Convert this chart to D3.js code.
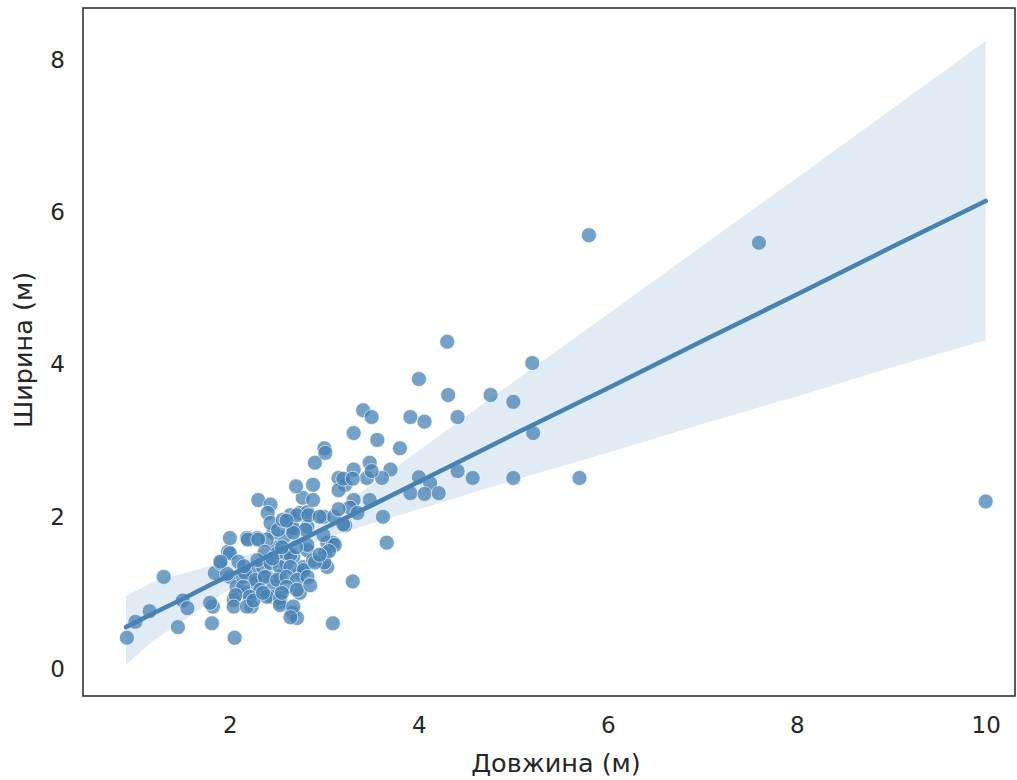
<!DOCTYPE html>
<html><head><meta charset="utf-8">
<script src="https://cdn.jsdelivr.net/npm/d3@7"></script>
<style>body{margin:0;background:#fff;} text{font-family:"DejaVu Sans",sans-serif;}</style>
</head><body>
<svg id="chart" width="1017" height="780"></svg>
<script>
// ---- data ----
const lengthX = [0.91,1.0,1.15,1.3,1.45,1.5,1.55,1.81,1.82,2.05,1.79,1.84,1.9,1.98,2.0,2.0,2.18,2.29,2.0,1.97,2.07,2.04,2.18,2.23,2.14,2.25,2.35,2.28,2.39,2.46,2.53,2.43,2.53,2.66,2.71,2.6,2.67,2.6,2.74,2.78,2.74,2.82,2.88,2.5,2.57,2.46,2.39,2.66,2.74,2.82,2.9,3.0,2.88,2.77,2.99,3.03,3.09,3.03,3.09,
2.3,2.43,2.4,2.43,2.82,2.64,2.67,2.8,2.51,2.19,2.3,2.37,2.5,2.64,1.9,2.09,2.29,2.43,2.53,2.64,2.78,2.16,2.27,2.37,2.5,2.6,2.71,2.82,2.14,2.32,2.6,2.71,2.06,2.21,2.39,2.53,2.04,2.18,2.53,2.67,2.64,
3.31,3.56,3.01,3.48,3.31,3.7,3.61,3.45,3.15,3.22,3.15,3.31,3.48,3.27,2.88,2.71,2.83,3.22,3.62,2.56,2.99,2.67,3.66,3.11,2.82,3.01,3.3,
4.3,5.2,4.0,4.31,4.76,5.0,3.91,4.06,4.41,5.21,3.8,4.0,4.12,3.91,4.06,4.21,4.41,4.57,5.0,5.7,3.41,3.5,
5.8,7.6,10.0,
3.0,3.05,3.2,3.1,2.25,2.35,2.55,2.45,2.55,2.7,2.15,2.6,3.2,3.5,3.3,2.85,2.9,2.95,3.15,3.35,2.7,2.95];
const widthY = [0.41,0.62,0.76,1.21,0.55,0.9,0.8,0.6,0.82,0.41,0.87,1.26,1.39,1.54,1.52,1.72,1.72,1.72,1.21,1.25,1.08,0.91,1.0,0.82,1.21,1.26,1.34,1.13,1.21,1.08,1.21,0.95,0.88,0.74,0.67,1.39,1.47,1.52,1.26,1.34,1.0,1.56,1.43,1.6,1.73,1.79,1.7,1.83,2.05,1.87,2.71,2.9,2.42,2.25,2.0,1.66,1.66,1.34,0.6,
2.22,2.16,2.05,1.92,2.06,2.02,1.85,1.83,1.83,1.7,1.7,1.54,1.52,1.5,1.41,1.41,1.43,1.39,1.34,1.34,1.3,1.26,1.17,1.21,1.17,1.21,1.17,1.21,1.08,1.04,1.08,1.04,0.97,0.95,0.95,0.93,0.82,0.82,0.84,0.82,0.68,
3.1,3.01,2.84,2.71,2.62,2.62,2.51,2.51,2.51,2.42,2.35,2.22,2.22,2.12,2.22,2.02,2.02,1.89,2.0,1.96,1.76,1.79,1.66,1.63,1.63,1.52,1.15,
4.3,4.02,3.81,3.6,3.6,3.51,3.31,3.25,3.31,3.1,2.9,2.52,2.44,2.31,2.3,2.31,2.6,2.51,2.51,2.51,3.4,3.31,
5.7,5.6,2.2,
1.4,1.55,1.9,2.0,0.9,1.0,1.0,1.45,1.6,1.6,1.35,1.95,2.5,2.6,2.5,1.1,1.4,1.5,2.1,2.05,2.4,2.0];

// regression line and its confidence band
const fitX     = [0.9, 1.2, 1.5, 1.8, 2.1, 2.4, 2.7, 3.0, 3.5, 4.0, 4.5, 5.0, 6.0, 7.0, 8.0, 9.0, 10.0];
const fitY     = [0.55,0.74,0.92,1.11,1.29,1.48,1.66,1.85,2.15,2.46,2.77,3.08,3.69,4.31,4.92,5.54,6.15];
const ciUpper  = [0.96,1.15,1.25,1.36,1.46,1.60,1.76,2.00,2.42,2.87,3.32,3.77,4.66,5.56,6.45,7.35,8.25];
const ciLower  = [0.06,0.38,0.63,0.89,1.13,1.37,1.56,1.71,1.91,2.10,2.29,2.48,2.84,3.22,3.58,3.96,4.32];

const xTicks = [2, 4, 6, 8, 10];
const yTicks = [0, 2, 4, 6, 8];
const xLabel = "Довжина (м)";
const yLabel = "Ширина (м)";

// ---- layout ----
const svg = d3.select("#chart");
const L = 83, R = 1015, T = 8, B = 696;
const x = d3.scaleLinear().domain([0.445, 10.31]).range([L, R]);
const y = d3.scaleLinear().domain([-0.355, 8.685]).range([B, T]);
const col = "#4682b4";

// band
const band = fitX.map((v,i)=>({x:v, lo:ciLower[i], hi:ciUpper[i], y:fitY[i]}));
svg.append("path").datum(band)
  .attr("d", d3.area().x(d=>x(d.x)).y0(d=>y(d.lo)).y1(d=>y(d.hi)))
  .attr("fill", col).attr("fill-opacity", 0.16);

// points
const pts = lengthX.map((v,i)=>({x:v, y:widthY[i]}));
svg.append("g").selectAll("circle").data(pts).join("circle")
  .attr("cx", d=>x(d.x)).attr("cy", d=>y(d.y)).attr("r", 7.5)
  .attr("fill", col).attr("fill-opacity", 0.75)
  .attr("stroke", "#fff").attr("stroke-width", 0.8).attr("stroke-opacity", 0.8);

// regression line
svg.append("path").datum(band)
  .attr("d", d3.line().x(d=>x(d.x)).y(d=>y(d.y)))
  .attr("fill", "none").attr("stroke", col).attr("stroke-width", 4.5)
  .attr("stroke-linecap", "round");

// frame
svg.append("rect").attr("x", L).attr("y", T).attr("width", R-L).attr("height", B-T)
  .attr("fill", "none").attr("stroke", "#333").attr("stroke-width", 1.6);

// axes (no tick marks)
const gx = svg.append("g").attr("transform", `translate(0,${B})`)
  .call(d3.axisBottom(x).tickValues(xTicks).tickSize(0).tickPadding(21).tickFormat(d3.format("d")));
const gy = svg.append("g").attr("transform", `translate(${L},0)`)
  .call(d3.axisLeft(y).tickValues(yTicks).tickSize(0).tickPadding(18).tickFormat(d3.format("d")));
[gx, gy].forEach(g=>{
  g.select(".domain").remove();
  g.selectAll("text").attr("font-size", 23).attr("fill", "#262626")
   .attr("font-family", "DejaVu Sans, sans-serif");
});

svg.append("text").attr("x", 556).attr("y", 772).attr("text-anchor", "middle")
  .attr("font-size", 25.5).attr("fill", "#262626").text(xLabel);
svg.append("text").attr("transform", `translate(32,350) rotate(-90)`)
  .attr("text-anchor", "middle").attr("font-size", 25.5).attr("fill", "#262626").text(yLabel);
</script>
</body></html>
